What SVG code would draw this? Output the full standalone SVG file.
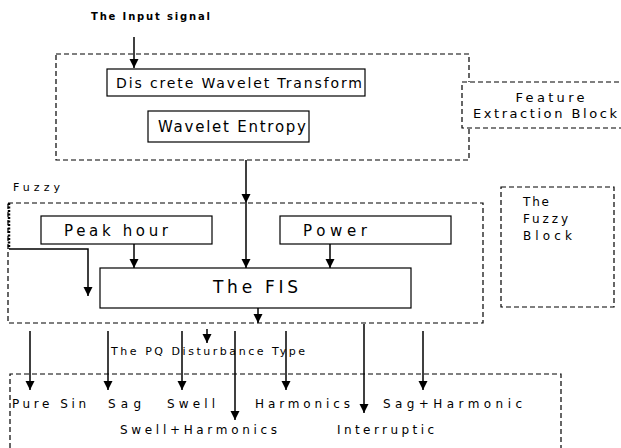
<svg xmlns="http://www.w3.org/2000/svg" width="621" height="448" viewBox="0 0 621 448">
<defs>
<marker id="ah" viewBox="0 0 10 10" refX="10" refY="5" markerWidth="9" markerHeight="11" markerUnits="userSpaceOnUse" orient="auto">
<path d="M0,0 L10,5 L0,10 z" fill="#000"/>
</marker>
<style>
.t{font-family:"DejaVu Sans","Liberation Sans",sans-serif;fill:#000}
.box{fill:#fff;stroke:#000;stroke-width:1.2}
.dash{fill:none;stroke:#000;stroke-width:1.2;stroke-dasharray:5,3}
.ln{fill:none;stroke:#000;stroke-width:1.5}
.ar{fill:none;stroke:#000;stroke-width:1.5;marker-end:url(#ah)}
</style>
</defs>
<rect width="621" height="448" fill="#fff"/>

<g id="feature-region">
<rect class="dash" x="56" y="54" width="413" height="106"/>
</g>
<g id="fuzzy-region">
<rect class="dash" x="8" y="203" width="475" height="120"/>
<line x1="9" y1="203" x2="9" y2="249" stroke="#000" stroke-width="2.5" stroke-dasharray="2,1.5"/>
</g>
<g id="output-region">
<path class="dash" d="M10,448 L10,374 L561,374 L561,448"/>
</g>
<g id="feature-label">
<rect class="dash" x="462" y="82" width="170" height="46" style="fill:#fff"/>
<text class="t" x="550" y="102" font-size="13" text-anchor="middle" textLength="69" lengthAdjust="spacing">Feature</text>
<text class="t" x="545" y="118" font-size="13" text-anchor="middle" textLength="144" lengthAdjust="spacing">Extraction Block</text>
</g>
<g id="fuzzy-label">
<rect class="dash" x="501" y="187" width="113" height="120"/>
<text class="t" x="523" y="206" font-size="12" textLength="26" lengthAdjust="spacing">The</text>
<text class="t" x="523" y="223" font-size="12" textLength="45" lengthAdjust="spacing">Fuzzy</text>
<text class="t" x="523" y="240" font-size="12" textLength="49" lengthAdjust="spacing">Block</text>
</g>

<g id="input-label">
<text class="t" x="91" y="20" font-size="10" font-weight="bold" textLength="119" lengthAdjust="spacing">The Input signal</text>
</g>
<g id="fuzzy-text">
<text class="t" x="13" y="191" font-size="11" textLength="47" lengthAdjust="spacing">Fuzzy</text>
</g>

<g id="connectors">
<line class="ar" x1="134" y1="37" x2="134" y2="68"/>
<line class="ar" x1="246" y1="160" x2="246" y2="203"/>
<line class="ar" x1="246" y1="203" x2="246" y2="268"/>
<line class="ar" x1="134" y1="244" x2="134" y2="268"/>
<line class="ar" x1="330" y1="244" x2="330" y2="268"/>
<path class="ar" d="M9,249 L88,249 L88,296"/>
<line class="ar" x1="258" y1="308" x2="258" y2="323"/>
<line class="ar" x1="207" y1="329" x2="207" y2="343"/>
<line class="ar" x1="30" y1="331" x2="30" y2="390"/>
<line class="ar" x1="108" y1="331" x2="108" y2="390"/>
<line class="ar" x1="182" y1="331" x2="182" y2="390"/>
<line class="ar" x1="235" y1="331" x2="235" y2="420"/>
<line class="ar" x1="286" y1="331" x2="286" y2="390"/>
<line class="ar" x1="364" y1="324" x2="364" y2="413"/>
<line class="ar" x1="423" y1="331" x2="423" y2="390"/>
</g>

<g id="dwt">
<rect class="box" x="107" y="69" width="258" height="27"/>
<text class="t" x="116" y="88" font-size="14" textLength="246" lengthAdjust="spacing">Dis crete Wavelet Transform</text>
</g>
<g id="entropy">
<rect class="box" x="148" y="111" width="161" height="31"/>
<text class="t" x="158" y="132" font-size="15" textLength="148" lengthAdjust="spacing">Wavelet Entropy</text>
</g>
<g id="peak-hour">
<rect class="box" x="41" y="216" width="171" height="28"/>
<text class="t" x="64" y="236" font-size="15" textLength="104" lengthAdjust="spacing">Peak hour</text>
</g>
<g id="power">
<rect class="box" x="280" y="216" width="171" height="28"/>
<text class="t" x="303" y="236" font-size="15" textLength="64" lengthAdjust="spacing">Power</text>
</g>
<g id="fis">
<rect class="box" x="100" y="268" width="311" height="40"/>
<text class="t" x="213" y="293" font-size="17" textLength="85" lengthAdjust="spacing">The FIS</text>
</g>

<g id="pq-label">
<text class="t" x="111" y="355" font-size="11" textLength="194" lengthAdjust="spacing">The PQ Disturbance Type</text>
</g>
<g id="outputs">
<text class="t" x="12" y="408" font-size="12" textLength="74" lengthAdjust="spacing">Pure Sin</text>
<text class="t" x="108" y="408" font-size="12" textLength="33" lengthAdjust="spacing">Sag</text>
<text class="t" x="167" y="408" font-size="12" textLength="48" lengthAdjust="spacing">Swell</text>
<text class="t" x="255" y="408" font-size="12" textLength="95" lengthAdjust="spacing">Harmonics</text>
<text class="t" x="383" y="408" font-size="12" textLength="139" lengthAdjust="spacing">Sag+Harmonic</text>
<text class="t" x="120" y="434" font-size="12" textLength="157" lengthAdjust="spacing">Swell+Harmonics</text>
<text class="t" x="337" y="434" font-size="12" textLength="97" lengthAdjust="spacing">Interruptic</text>
</g>
</svg>
